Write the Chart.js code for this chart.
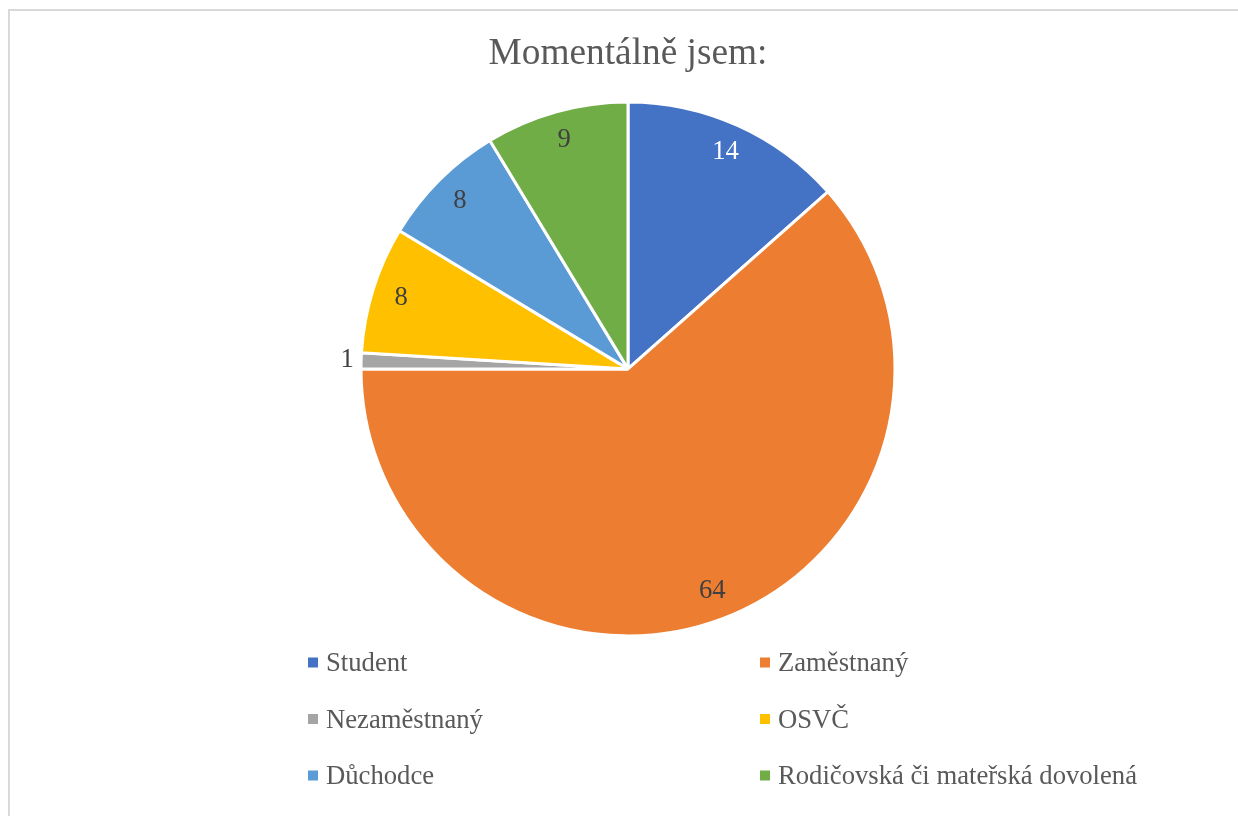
<!DOCTYPE html>
<html>
<head>
<meta charset="utf-8">
<script src="https://cdn.jsdelivr.net/npm/chart.js@4.4.0/dist/chart.umd.min.js"></script>
<style>
  html, body { margin: 0; padding: 0; background: #fff; overflow: hidden; }
  #frame { position: absolute; left: 8px; top: 9px; width: 1240px; height: 820px; border: 2px solid #d9d9d9; box-sizing: border-box; }
  #wrap { position: absolute; left: 0; top: 0; width: 1238px; height: 816px; }
</style>
</head>
<body>
<div id="frame"></div>
<div id="wrap"><canvas id="myChart" width="1238" height="816"></canvas></div>
<script>
var chartTitle = 'Momentálně jsem:'
var labels = ['Student', 'Zaměstnaný', 'Nezaměstnaný', 'OSVČ', 'Důchodce', 'Rodičovská či mateřská dovolená']
var values = [14, 64, 1, 8, 8, 9]
var colors = ['#4472C4', '#ED7D31', '#A5A5A5', '#FFC000', '#5B9BD5', '#70AD47']

var serif = '"Liberation Serif", "Times New Roman", serif'

// rough relative luminance, used to pick white or dark label text
function lum(hex) {
  var r = parseInt(hex.substr(1, 2), 16) / 255
  var g = parseInt(hex.substr(3, 2), 16) / 255
  var b = parseInt(hex.substr(5, 2), 16) / 255
  var f = function (c) { return c <= 0.03928 ? c / 12.92 : Math.pow((c + 0.055) / 1.055, 2.4) }
  return 0.2126 * f(r) + 0.7152 * f(g) + 0.0722 * f(b)
}

var valueLabels = {
  id: 'valueLabels',
  afterDatasetsDraw: function (chart) {
    var ctx = chart.ctx
    var meta = chart.getDatasetMeta(0)
    ctx.save()
    ctx.font = '26.67px ' + serif
    ctx.textAlign = 'center'
    ctx.textBaseline = 'middle'
    meta.data.forEach(function (arc, i) {
      var p = arc.getProps(['x', 'y', 'startAngle', 'endAngle', 'outerRadius'], true)
      var mid = (p.startAngle + p.endAngle) / 2
      var sweep = p.endAngle - p.startAngle
      var outside = sweep < 0.15
      var d = outside ? p.outerRadius + 14 : p.outerRadius * 0.89
      ctx.fillStyle = (!outside && lum(colors[i]) < 0.25) ? '#ffffff' : '#404040'
      ctx.fillText(String(values[i]), p.x + Math.cos(mid) * d, p.y + Math.sin(mid) * d)
    })
    ctx.restore()
  }
}

// two-column legend like the original
var legendGrid = {
  id: 'legendGrid',
  afterDraw: function (chart) {
    var ctx = chart.ctx
    ctx.save()
    ctx.font = '26.67px ' + serif
    ctx.textAlign = 'left'
    ctx.textBaseline = 'alphabetic'
    for (var i = 0; i < labels.length; i++) {
      var x = (i % 2 === 0) ? 308 : 760
      var y = 662 + Math.floor(i / 2) * 56.5
      ctx.fillStyle = colors[i]
      ctx.fillRect(x, y - 4.5, 10, 10)
      ctx.fillStyle = '#595959'
      ctx.fillText(labels[i], x + 18, y + 9)
    }
    ctx.restore()
  }
}

var ctx = document.getElementById('myChart').getContext('2d')

var chart = new Chart(ctx, {
  type: 'pie',
  data: {
    labels: labels,
    datasets: [{
      data: values,
      backgroundColor: colors,
      borderColor: '#ffffff',
      borderWidth: 3,
      hoverOffset: 0
    }]
  },
  options: {
    responsive: false,
    animation: false,
    events: [],
    radius: 267,
    layout: { padding: { left: 18, right: 0, top: 0, bottom: 165 } },
    plugins: {
      legend: { display: false },
      tooltip: { enabled: false },
      title: {
        display: true,
        text: chartTitle,
        color: '#595959',
        font: { family: serif, size: 37.33, weight: 'normal' },
        padding: { top: 32, bottom: 10 }
      }
    }
  },
  plugins: [valueLabels, legendGrid]
})
</script>
</body>
</html>
